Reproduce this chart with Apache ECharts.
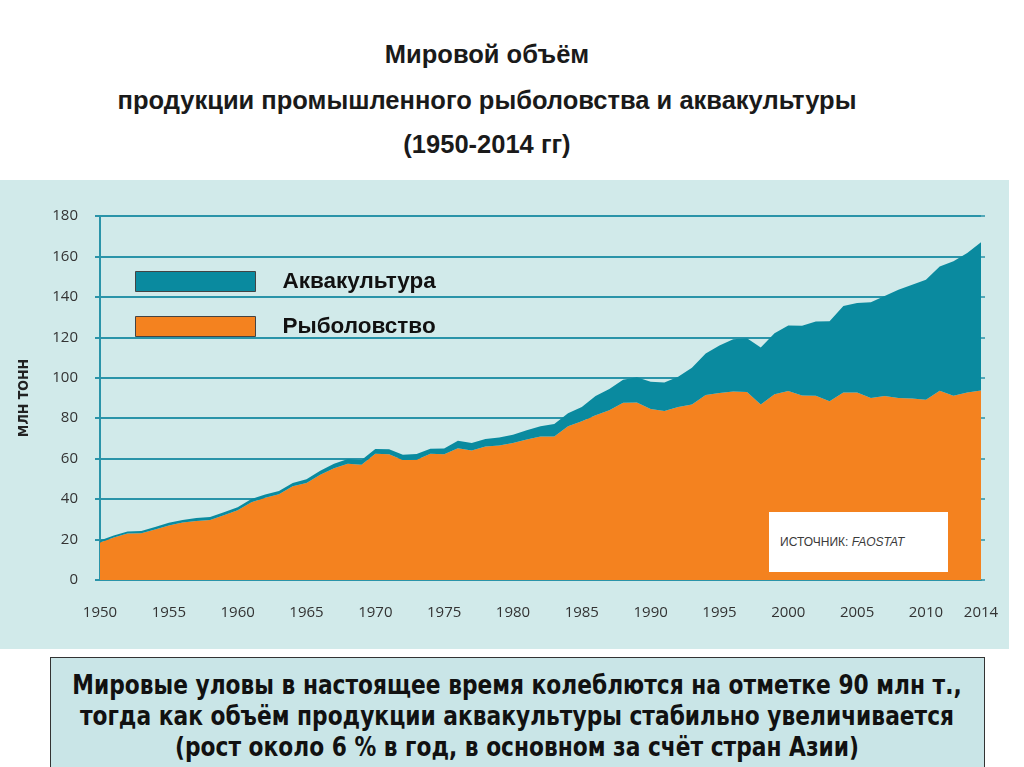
<!DOCTYPE html>
<html>
<head>
<meta charset="utf-8">
<script src="https://cdn.jsdelivr.net/npm/echarts@6/dist/echarts.min.js"></script>
<style>
  body { margin: 0; background: #fff; }
  .page { position: relative; width: 1024px; height: 767px; overflow: hidden; background: #fff; }
  .panel { position: absolute; left: 0; top: 180px; width: 1009px; height: 469px; background: #d1eaea; }
  #chart { position: absolute; left: 0; top: 0; width: 1024px; height: 767px; }
  .title { position: absolute; left: 0; width: 974px; text-align: center;
           font-family: "Liberation Sans", Arial, sans-serif; font-weight: bold; font-size: 25.5px; color: #1a1a1a; }
  .note { position: absolute; left: 50px; top: 657px; width: 935px; height: 130px;
          background: #c9e5e7; border: 1.5px solid #333; box-sizing: border-box; overflow: hidden; }
  .note div { font-family: "Liberation Sans Narrow", "DejaVu Sans Condensed", sans-serif; font-weight: bold;
          font-size: 26px; line-height: 31px; text-align: center; color: #111; margin-top: 12px;
          width: 1100px; margin-left: -84px;
          white-space: nowrap; transform: scaleX(0.93); transform-origin: 550px 0; }
  .source { position: absolute; left: 769px; top: 512px; width: 179px; height: 60px; background: #fff;
            font-family: "Liberation Sans", Arial, sans-serif; font-size: 12px; color: #3a3a3a;
            line-height: 60px; padding-left: 11px; box-sizing: border-box; }
</style>
</head>
<body>
<div class="page">
  <div class="panel"></div>
  <div class="title" style="top:40px">Мировой объём</div>
  <div class="title" style="top:86px">продукции промышленного рыболовства и аквакультуры</div>
  <div class="title" style="top:130px">(1950-2014 гг)</div>
  <div id="chart"></div>
  <div class="source">ИСТОЧНИК: <i>FAOSTAT</i></div>
  <div class="note"><div>Мировые уловы в настоящее время колеблются на отметке 90 млн т.,<br>тогда как объём продукции аквакультуры стабильно увеличивается<br>(рост около 6 % в год, в основном за счёт стран Азии)</div></div>
</div>
<script>
// годы 1950-2014
var years = [];
for (var y = 1950; y <= 2014; y++) years.push(String(y));
// подписи на оси X
var yearLabels = ['1950','1955','1960','1965','1970','1975','1980','1985','1990','1995','2000','2005','2010','2014'];

// млн тонн
var fishery = [
  18.5, 21, 23, 23.1, 25, 27, 28.4, 29.2, 29.7, 32,
  34.5, 38.5, 40.7, 42.4, 46.3, 48, 52, 55.3, 57.5, 57,
  62.4, 62.2, 59.4, 59.5, 62.4, 62.2, 65.2, 64, 66, 66.5,
  67.7, 69.5, 71, 71, 76, 78.5, 81.5, 84, 87.6, 87.8,
  84.5, 83.6, 85.5, 86.8, 91.5, 92.5, 93.2, 93, 86.8, 91.8,
  93.5, 91.2, 91.1, 88.4, 92.7, 92.7, 90, 91, 90, 89.7,
  89.1, 93.6, 91.1, 92.7, 93.7
];
var aquaculture = [
  1.0, 1.0, 1.0, 1.1, 1.2, 1.3, 1.3, 1.4, 1.5, 1.5,
  1.5, 1.5, 1.6, 1.6, 1.7, 1.8, 2.0, 2.2, 2.3, 2.3,
  2.4, 2.4, 2.5, 2.8, 2.5, 2.8, 3.6, 3.7, 3.7, 4.0,
  4.1, 4.5, 5.0, 6.2, 6.5, 7.0, 9.5, 10.5, 11.4, 12.4,
  13.5, 14.1, 15.0, 18.2, 20.5, 23.5, 25.8, 26.6, 28.2, 30.2,
  32.3, 34.5, 36.7, 39.6, 42.8, 44.3, 47.3, 49.5, 53.5, 56.3,
  59.4, 61.4, 66.5, 69.0, 73.3
];

var teal = '#0a8a9f';
var orange = '#f4821f';
var lineCol = '#2a94a9';

var chart = echarts.init(document.getElementById('chart'));
chart.setOption({
  animation: false,
  backgroundColor: 'transparent',
  legend: {
    data: ['Аквакультура', 'Рыболовство'],
    orient: 'vertical',
    left: 135, top: 270,
    padding: 0,
    itemWidth: 120, itemHeight: 20, itemGap: 22,
    icon: 'rect',
    itemStyle: { borderColor: '#444', borderWidth: 1 },
    textStyle: { fontFamily: 'Liberation Sans', fontWeight: 'bold', fontSize: 22.5, color: '#111', padding: [0, 0, 0, 22] }
  },
  grid: { left: 100, right: 43, top: 216, bottom: 187 },
  xAxis: {
    type: 'category',
    data: years,
    boundaryGap: false,
    axisLine: { lineStyle: { color: lineCol, width: 2 } },
    axisTick: { show: false },
    axisLabel: {
      interval: function (i, v) { return yearLabels.indexOf(v) >= 0; },
      margin: 25,
      fontFamily: 'Open Sans', fontSize: 15, color: '#333'
    }
  },
  yAxis: [{
    type: 'value',
    min: 0, max: 180, interval: 20,
    name: 'МЛН ТОНН',
    nameLocation: 'middle',
    nameGap: 69,
    nameTextStyle: { fontFamily: 'DejaVu Sans Condensed', fontWeight: 'bold', fontSize: 14, color: '#222' },
    axisLine: { show: true, lineStyle: { color: lineCol, width: 2 } },
    axisTick: { show: true, length: 5, lineStyle: { color: lineCol, width: 2 } },
    axisLabel: { margin: 22, fontFamily: 'Open Sans', fontSize: 15, color: '#333' },
    splitLine: { lineStyle: { color: lineCol, width: 2 } }
  }, {
    type: 'value',
    position: 'right',
    min: 0, max: 180, interval: 20,
    axisLine: { show: false },
    axisTick: { show: true, length: 4, lineStyle: { color: lineCol, width: 1.5 } },
    axisLabel: { show: false },
    splitLine: { show: false }
  }],
  series: [{
    name: 'Рыболовство',
    type: 'line',
    stack: 'total',
    data: fishery,
    showSymbol: false,
    lineStyle: { width: 0 },
    itemStyle: { color: orange },
    areaStyle: { color: orange, opacity: 1 },
    z: 3
  }, {
    name: 'Аквакультура',
    type: 'line',
    stack: 'total',
    data: aquaculture,
    showSymbol: false,
    lineStyle: { width: 0 },
    itemStyle: { color: teal },
    areaStyle: { color: teal, opacity: 1 },
    z: 3
  }]
});
</script>
</body>
</html>
